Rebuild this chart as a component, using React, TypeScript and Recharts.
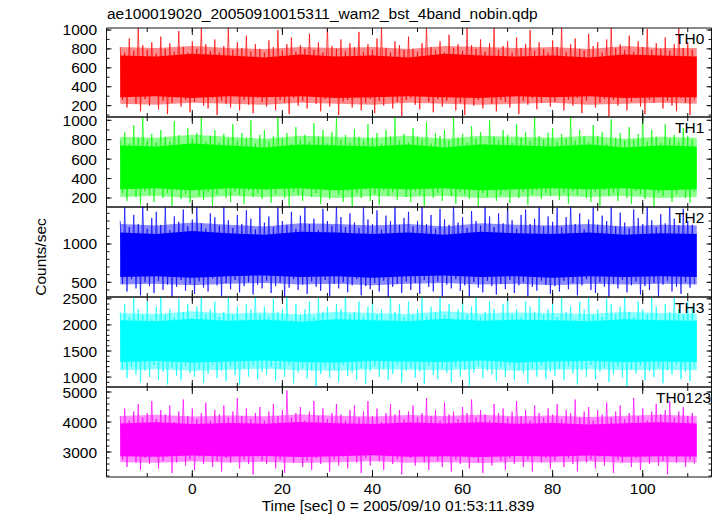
import { Area, ComposedChart, Line, XAxis, YAxis } from 'recharts';

const FONT = '"Liberation Sans", Arial, Helvetica, sans-serif';
const FONT_SIZE = 15.5;
const INK = '#111';
const WIDTH = 717;
const PLOT_LEFT = 106.5;
const RIGHT_GAP = 5.5;
const PAD = 10;
const LABEL_H = 30;

// time axis (seconds)
const X_DOMAIN: [number, number] = [-19.05, 115.27];
const X_MAJOR = [0, 20, 40, 60, 80, 100];
const X_MINOR = [-10, 0, 10, 20, 30, 40, 50, 60, 70, 80, 90, 100, 110];

// spikes: one high every second starting at -16, one low half a bin later
const BIN_START = -16;
const BIN_STEP = 1;
// envelopes of the band, one sample every 8 s
const CORE_STEP = 8;

const th0High = [
  820, 760, 910, 780, 1040, 840, 790, 870, 750, 930, 800, 860, 770, 990, 820, 760, 880, 800, 1030, 850, 780, 900, 760, 830, 1040, 790, 870, 810, 940, 770, 850, 800,
  760, 890, 820, 1000, 780, 850, 920, 770, 840, 800, 960, 790, 870, 760, 1040, 830, 800, 900, 780, 860, 820, 980, 770, 850, 790, 910, 1030, 810, 760, 880, 840, 790,
  930, 800, 770, 860, 1040, 820, 790, 880, 760, 950, 810, 850, 780, 1020, 840, 800, 900, 770, 860, 1040, 790, 830, 880, 760, 920, 810, 850, 1000, 780, 870, 800, 760,
  890, 820, 1030, 770, 850, 910, 800, 780, 960, 830, 870, 760, 900, 1040, 810, 850, 790, 940, 770, 880, 820, 1010, 790, 860, 800, 920, 780, 850, 1040, 810, 870, 790,
];
const th0Low = [
  260, 180, 300, 220, 140, 270, 200, 310, 160, 250, 110, 230, 290, 190, 260, 130, 240, 300, 200, 170, 280, 100, 250, 220, 180, 300, 150, 260, 210, 120, 280, 240,
  190, 300, 150, 260, 230, 110, 280, 200, 250, 170, 310, 220, 140, 270, 190, 300, 100, 240, 260, 180, 290, 150, 230, 270, 120, 250, 200, 300, 170, 240, 90, 260,
  280, 210, 160, 300, 240, 130, 270, 190, 250, 310, 150, 230, 100, 280, 200, 260, 170, 300, 220, 140, 260, 240, 180, 300, 110, 250, 210, 280, 160, 230, 290, 190,
  240, 300, 150, 260, 200, 280, 120, 250, 310, 180, 230, 270, 90, 260, 200, 300, 150, 240, 280, 190, 110, 260, 230, 300, 170, 250, 200, 140, 280, 230, 100, 260,
];
const th0CoreTop = [730, 720, 750, 730, 710, 740, 720, 730, 710, 750, 730, 720, 730, 710, 740, 730, 720];
const th0CoreBot = [290, 300, 280, 300, 290, 300, 280, 290, 300, 290, 280, 300, 290, 300, 280, 290, 290];
const th0HaloTop = [820, 810, 830, 810, 800, 820, 810, 820, 800, 830, 820, 810, 820, 800, 830, 810, 810];
const th0HaloBot = [220, 210, 230, 220, 210, 230, 220, 210, 230, 220, 210, 220, 230, 210, 220, 230, 220];

const th1High = [
  800, 880, 760, 950, 820, 1040, 790, 860, 770, 900, 830, 780, 990, 850, 760, 920, 810, 870, 1040, 780, 840, 900, 770, 860, 810, 960, 790, 870, 820, 1000, 760, 850,
  900, 780, 840, 1040, 810, 870, 760, 930, 800, 850, 780, 970, 830, 900, 760, 880, 1020, 800, 850, 770, 910, 830, 790, 960, 820, 870, 760, 900, 840, 1040, 790, 860,
  770, 920, 830, 800, 980, 760, 870, 840, 900, 790, 1040, 820, 860, 770, 940, 810, 880, 760, 1000, 830, 790, 900, 850, 770, 960, 820, 880, 790, 1030, 840, 800, 870,
  920, 780, 860, 810, 1040, 790, 900, 830, 770, 950, 840, 880, 760, 1010, 820, 870, 790, 930, 800, 860, 1040, 780, 900, 830, 770, 960, 810, 850, 780, 920, 840, 800,
];
const th1Low = [
  250, 170, 290, 210, 130, 270, 230, 160, 300, 200, 250, 120, 280, 190, 240, 150, 300, 220, 180, 260, 110, 240, 290, 200, 160, 270, 230, 140, 280, 210, 250, 190,
  280, 150, 240, 300, 200, 120, 260, 230, 170, 290, 210, 250, 140, 280, 190, 300, 230, 160, 270, 110, 250, 200, 290, 170, 240, 130, 280, 220, 260, 180, 300, 210,
  160, 270, 230, 120, 290, 200, 250, 170, 300, 220, 140, 260, 240, 190, 280, 110, 250, 210, 300, 170, 230, 270, 150, 290, 200, 260, 130, 240, 280, 190, 250, 220,
  290, 180, 250, 140, 270, 230, 300, 200, 160, 260, 120, 280, 220, 250, 170, 300, 200, 140, 270, 240, 190, 290, 110, 250, 220, 280, 160, 240, 300, 200, 150, 260,
];
const th1CoreTop = [740, 730, 760, 740, 720, 750, 740, 730, 750, 720, 750, 740, 730, 750, 720, 740, 730];
const th1CoreBot = [290, 300, 280, 300, 290, 300, 280, 300, 290, 300, 280, 290, 300, 290, 300, 280, 290];
const th1HaloTop = [830, 820, 850, 830, 810, 840, 830, 820, 840, 810, 840, 830, 820, 840, 810, 830, 820];
const th1HaloBot = [210, 220, 200, 220, 210, 220, 200, 220, 210, 220, 200, 210, 220, 210, 220, 200, 210];

const th2High = [
  1300, 1480, 1220, 1380, 1260, 1520, 1200, 1340, 1420, 1250, 1500, 1180, 1360, 1290, 1450, 1230, 1320, 1520, 1270, 1200, 1400, 1350, 1240, 1490, 1310, 1210, 1380, 1260, 1440, 1330, 1190, 1500,
  1280, 1360, 1220, 1520, 1300, 1250, 1420, 1200, 1370, 1490, 1260, 1330, 1180, 1460, 1300, 1240, 1520, 1350, 1220, 1400, 1280, 1210, 1500, 1320, 1260, 1440, 1190, 1370, 1300, 1520, 1250, 1340,
  1420, 1230, 1300, 1500, 1260, 1380, 1200, 1460, 1320, 1250, 1520, 1280, 1350, 1210, 1430, 1300, 1240, 1490, 1360, 1220, 1400, 1270, 1520, 1310, 1200, 1380, 1450, 1260, 1330, 1500, 1230, 1360,
  1290, 1470, 1220, 1350, 1520, 1260, 1400, 1190, 1320, 1480, 1250, 1370, 1300, 1520, 1230, 1410, 1280, 1200, 1450, 1340, 1260, 1500, 1310, 1220, 1390, 1270, 1520, 1330, 1240, 1460, 1300, 1250,
];
const th2Low = [
  480, 380, 540, 420, 330, 500, 450, 360, 520, 400, 470, 310, 440, 530, 390, 480, 350, 510, 430, 380, 550, 460, 320, 490, 410, 530, 370, 450, 500, 340, 470, 420,
  520, 360, 450, 490, 310, 430, 540, 400, 470, 350, 510, 440, 390, 530, 320, 480, 420, 500, 370, 460, 540, 330, 450, 410, 490, 380, 520, 300, 440, 480, 360, 510,
  400, 490, 350, 530, 440, 380, 510, 320, 470, 420, 540, 390, 460, 310, 500, 430, 370, 520, 450, 340, 480, 410, 530, 360, 460, 500, 320, 440, 390, 520, 470, 350,
  450, 380, 520, 410, 490, 330, 460, 540, 400, 360, 500, 440, 310, 480, 420, 530, 370, 460, 510, 340, 450, 400, 490, 300, 470, 520, 380, 440, 350, 500, 430, 480,
];
const th2CoreTop = [1150, 1130, 1170, 1140, 1120, 1160, 1150, 1130, 1150, 1120, 1160, 1140, 1130, 1150, 1120, 1140, 1130];
const th2CoreBot = [570, 580, 560, 580, 590, 570, 580, 560, 580, 590, 570, 580, 560, 580, 570, 580, 570];
const th2HaloTop = [1260, 1240, 1280, 1250, 1230, 1270, 1260, 1240, 1260, 1230, 1270, 1250, 1240, 1260, 1230, 1250, 1240];
const th2HaloBot = [470, 480, 460, 480, 490, 470, 480, 460, 480, 490, 470, 480, 460, 480, 470, 480, 470];

const th3High = [
  2250, 2400, 2150, 2550, 2300, 2200, 2450, 2100, 2350, 2600, 2200, 2300, 2150, 2500, 2250, 2400, 2100, 2350, 2600, 2200, 2300, 2450, 2150, 2250, 2550, 2200, 2350, 2100, 2400, 2300, 2600, 2200,
  2350, 2150, 2500, 2250, 2300, 2600, 2100, 2400, 2200, 2300, 2450, 2150, 2550, 2250, 2350, 2100, 2400, 2300, 2600, 2200, 2250, 2450, 2150, 2350, 2500, 2200, 2300, 2100, 2600, 2250, 2400, 2150,
  2450, 2200, 2300, 2550, 2150, 2350, 2250, 2600, 2200, 2400, 2100, 2300, 2500, 2200, 2350, 2600, 2150, 2250, 2450, 2300, 2100, 2400, 2550, 2200, 2300, 2150, 2450, 2350, 2250, 2600, 2200, 2300,
  2400, 2150, 2550, 2250, 2350, 2100, 2450, 2300, 2600, 2200, 2300, 2150, 2500, 2400, 2200, 2350, 2600, 2250, 2150, 2450, 2300, 2200, 2550, 2350, 2100, 2400, 2250, 2600, 2300, 2200, 2450, 2350,
];
const th3Low = [
  1150, 980, 1200, 1050, 900, 1120, 1000, 1230, 950, 1100, 860, 1180, 1030, 940, 1210, 1080, 1000, 1150, 890, 1060, 1240, 980, 1120, 920, 1200, 1040, 850, 1160, 1010, 1220, 960, 1100,
  1050, 1200, 930, 1150, 1000, 1240, 880, 1090, 1180, 970, 1120, 830, 1060, 1200, 990, 1140, 910, 1230, 1020, 1080, 950, 1170, 870, 1110, 1210, 1000, 1150, 940, 1060, 1230, 900, 1120,
  1180, 990, 1100, 870, 1220, 1040, 960, 1160, 1080, 900, 1200, 1010, 1140, 840, 1090, 1230, 980, 1120, 1050, 920, 1190, 1000, 1240, 950, 1130, 1060, 880, 1170, 1010, 1220, 970, 1100,
  1020, 1160, 940, 1210, 1070, 860, 1130, 1000, 1240, 960, 1100, 1180, 900, 1050, 1200, 990, 830, 1150, 1070, 1220, 940, 1110, 1000, 1180, 880, 1130, 1050, 1230, 960, 1100, 920, 1170,
];
const th3CoreTop = [2090, 2070, 2120, 2080, 2100, 2060, 2110, 2090, 2070, 2120, 2080, 2100, 2090, 2070, 2110, 2090, 2080];
const th3CoreBot = [1290, 1310, 1280, 1300, 1320, 1290, 1280, 1310, 1300, 1290, 1320, 1280, 1300, 1310, 1290, 1300, 1290];
const th3HaloTop = [2230, 2210, 2260, 2220, 2240, 2200, 2250, 2230, 2210, 2260, 2220, 2240, 2230, 2210, 2250, 2230, 2220];
const th3HaloBot = [1130, 1150, 1120, 1140, 1160, 1130, 1120, 1150, 1140, 1130, 1160, 1120, 1140, 1150, 1130, 1140, 1130];

const sumHigh = [
  4200, 4450, 4050, 4350, 4600, 4150, 4300, 4700, 4100, 4400, 4250, 4550, 4000, 4350, 4750, 4200, 4450, 4100, 4300, 4650, 4050, 4400, 4250, 4550, 4150, 4350, 4800, 4200, 4450, 4100, 4300, 4500,
  4050, 4350, 4600, 4200, 4400, 5050, 4150, 4300, 4500, 4050, 4350, 4700, 4200, 4450, 4100, 4300, 4600, 4250, 4050, 4400, 4550, 4150, 4350, 4700, 4200, 4450, 4000, 4300, 4600, 4250, 4400, 4100,
  4350, 4550, 4150, 4300, 4800, 4200, 4400, 4050, 4650, 4250, 4350, 4100, 4500, 4300, 4750, 4150, 4400, 4250, 4050, 4600, 4300, 4450, 4150, 4350, 4700, 4200, 4400, 4050, 4550, 4300, 4150, 4450,
  4250, 4600, 4100, 4400, 4300, 4750, 4150, 4350, 4500, 4050, 4400, 4250, 4650, 4150, 4350, 4550, 4100, 4300, 4800, 4200, 4450, 4050, 4350, 4600, 4250, 4400, 4700, 4150, 4350, 4500, 4200, 4300,
];
const sumLow = [
  2750, 2500, 2900, 2650, 2400, 2800, 2600, 2950, 2450, 2700, 2850, 2300, 2650, 2900, 2550, 2750, 2400, 2850, 2600, 2950, 2500, 2700, 2350, 2800, 2650, 2900, 2450, 2750, 2600, 2250, 2850, 2700,
  2600, 2900, 2450, 2750, 2300, 2850, 2650, 2950, 2500, 2700, 2400, 2800, 2600, 2900, 2350, 2750, 2550, 2850, 2450, 2950, 2650, 2300, 2800, 2550, 2900, 2700, 2400, 2850, 2600, 2750, 2250, 2900,
  2800, 2550, 2950, 2650, 2400, 2850, 2700, 2500, 2900, 2350, 2750, 2600, 2950, 2450, 2800, 2650, 2300, 2850, 2550, 2900, 2700, 2400, 2800, 2600, 2950, 2500, 2750, 2350, 2900, 2650, 2800, 2450,
  2700, 2950, 2500, 2800, 2600, 2350, 2900, 2650, 2750, 2450, 2850, 2550, 2900, 2300, 2750, 2650, 2950, 2500, 2800, 2400, 2850, 2600, 2950, 2550, 2700, 2250, 2850, 2650, 2900, 2500, 2750, 2600,
];
const sumCoreTop = [3950, 3990, 3930, 3970, 3940, 4000, 3960, 3930, 3980, 3950, 3990, 3940, 3970, 3920, 3960, 3990, 3950];
const sumCoreBot = [2860, 2840, 2880, 2850, 2870, 2830, 2860, 2890, 2840, 2860, 2830, 2870, 2850, 2880, 2840, 2860, 2850];
const sumHaloTop = [4200, 4240, 4180, 4220, 4190, 4250, 4210, 4180, 4230, 4200, 4240, 4190, 4220, 4170, 4210, 4240, 4200];
const sumHaloBot = [2660, 2640, 2680, 2650, 2670, 2630, 2660, 2690, 2640, 2660, 2630, 2670, 2650, 2680, 2640, 2660, 2650];

interface PanelSpec {
  name: string;
  labelX: number;
  color: string;
  top: number;
  height: number;
  domain: [number, number];
  major: number[];
  minor: number[];
  high: number[];
  low: number[];
  coreTop: number[];
  coreBot: number[];
  haloTop: number[];
  haloBot: number[];
}

const panels: PanelSpec[] = [
  { name: 'TH0', labelX: 675, color: '#ff0000', top: 27.5, height: 89, domain: [80, 1021], major: [200, 400, 600, 800, 1000], minor: [100, 200, 300, 400, 500, 600, 700, 800, 900, 1000], high: th0High, low: th0Low, coreTop: th0CoreTop, coreBot: th0CoreBot, haloTop: th0HaloTop, haloBot: th0HaloBot },
  { name: 'TH1', labelX: 675, color: '#00ff00', top: 116.5, height: 90, domain: [107, 1034], major: [200, 400, 600, 800, 1000], minor: [200, 300, 400, 500, 600, 700, 800, 900, 1000], high: th1High, low: th1Low, coreTop: th1CoreTop, coreBot: th1CoreBot, haloTop: th1HaloTop, haloBot: th1HaloBot },
  { name: 'TH2', labelX: 675, color: '#0000ff', top: 206.5, height: 90, domain: [308, 1483], major: [500, 1000], minor: [400, 500, 600, 700, 800, 900, 1000, 1100, 1200, 1300, 1400], high: th2High, low: th2Low, coreTop: th2CoreTop, coreBot: th2CoreBot, haloTop: th2HaloTop, haloBot: th2HaloBot },
  { name: 'TH3', labelX: 675, color: '#00ffff', top: 296.5, height: 90, domain: [810, 2535], major: [1000, 1500, 2000, 2500], minor: [900, 1000, 1100, 1200, 1300, 1400, 1500, 1600, 1700, 1800, 1900, 2000, 2100, 2200, 2300, 2400, 2500], high: th3High, low: th3Low, coreTop: th3CoreTop, coreBot: th3CoreBot, haloTop: th3HaloTop, haloBot: th3HaloBot },
  { name: 'TH0123', labelX: 656, color: '#ff00ff', top: 386.5, height: 90, domain: [2167, 5167], major: [3000, 4000, 5000], minor: [2200, 2400, 2600, 2800, 3000, 3200, 3400, 3600, 3800, 4000, 4200, 4400, 4600, 4800, 5000], high: sumHigh, low: sumLow, coreTop: sumCoreTop, coreBot: sumCoreBot, haloTop: sumHaloTop, haloBot: sumHaloBot },
];

function spikeRows(high: number[], low: number[]) {
  const rows: { t: number; v: number }[] = [];
  high.forEach((v, i) => {
    rows.push({ t: BIN_START + i * BIN_STEP, v });
    rows.push({ t: BIN_START + i * BIN_STEP + BIN_STEP / 2, v: low[i] });
  });
  return rows;
}

function bandRows(p: PanelSpec) {
  return p.coreTop.map((v, i) => ({
    t: BIN_START + i * CORE_STEP,
    core: [p.coreBot[i], v],
    halo: [p.haloBot[i], p.haloTop[i]],
  }));
}

const tickText = { fill: '#000', fontSize: FONT_SIZE, fontFamily: FONT };
const NoLabel = () => <g />;

// inward tick marks on all four sides, plus the frame
function frameAxes(p: PanelSpec) {
  const common = { type: 'number' as const, allowDataOverflow: true, interval: 0, tick: NoLabel, stroke: INK, mirror: true };
  const xs = { ...common, dataKey: 't', domain: X_DOMAIN, height: 0.01 };
  const ys = { ...common, dataKey: 'v', domain: p.domain, width: 0.01 };
  return [
    <XAxis key="bM" xAxisId="bM" {...xs} orientation="bottom" ticks={X_MAJOR} tickSize={7} />,
    <XAxis key="bm" xAxisId="bm" {...xs} orientation="bottom" ticks={X_MINOR} tickSize={4} axisLine={false} />,
    <XAxis key="tM" xAxisId="tM" {...xs} orientation="top" ticks={X_MAJOR} tickSize={7} />,
    <XAxis key="tm" xAxisId="tm" {...xs} orientation="top" ticks={X_MINOR} tickSize={4} axisLine={false} />,
    <YAxis key="lM" yAxisId="lM" {...ys} orientation="left" ticks={p.major} tickSize={5} />,
    <YAxis key="lm" yAxisId="lm" {...ys} orientation="left" ticks={p.minor} tickSize={3} axisLine={false} />,
    <YAxis key="rM" yAxisId="rM" {...ys} orientation="right" ticks={p.major} tickSize={5} />,
    <YAxis key="rm" yAxisId="rm" {...ys} orientation="right" ticks={p.minor} tickSize={3} axisLine={false} />,
  ];
}

function Panel({ p, last }: { p: PanelSpec; last: boolean }) {
  const extra = last ? LABEL_H : 0;
  const h = p.height + 2 * PAD + extra;
  return (
    <>
      <div style={{ position: 'absolute', left: 0, top: p.top - PAD }}>
        <ComposedChart width={WIDTH} height={h} data={bandRows(p)}
          margin={{ top: PAD, right: RIGHT_GAP, bottom: PAD + extra, left: PLOT_LEFT }}>
          <XAxis xAxisId="main" type="number" dataKey="t" domain={X_DOMAIN} allowDataOverflow hide />
          <YAxis yAxisId="main" type="number" domain={p.domain} allowDataOverflow hide />
          <Area xAxisId="main" yAxisId="main" type="linear" dataKey="halo" fill={p.color} fillOpacity={0.45}
            stroke="none" isAnimationActive={false} activeDot={false} />
          <Area xAxisId="main" yAxisId="main" type="linear" dataKey="core" fill={p.color} fillOpacity={1}
            stroke="none" isAnimationActive={false} activeDot={false} />
        </ComposedChart>
      </div>
      <div style={{ position: 'absolute', left: 0, top: p.top - PAD }}>
        <ComposedChart width={WIDTH} height={h} data={spikeRows(p.high, p.low)}
          margin={{ top: PAD, right: RIGHT_GAP, bottom: PAD, left: 0 }}>
          <XAxis xAxisId="main" type="number" dataKey="t" domain={X_DOMAIN} allowDataOverflow hide />
          {last && (
            <XAxis xAxisId="lab" type="number" dataKey="t" domain={X_DOMAIN} allowDataOverflow orientation="bottom"
              height={LABEL_H} ticks={X_MAJOR} interval={0} tickLine={false} axisLine={false}
              tickSize={4} tickMargin={2} tick={tickText} />
          )}
          <YAxis yAxisId="main" type="number" domain={p.domain} allowDataOverflow width={PLOT_LEFT}
            ticks={p.major} interval={0} tickLine={false} axisLine={false} tickSize={6} tickMargin={3.5}
            tick={tickText} />
          <Line xAxisId="main" yAxisId="main" type="linear" dataKey="v" stroke={p.color} strokeWidth={1}
            strokeOpacity={0.7} dot={false} activeDot={false} connectNulls isAnimationActive={false} />
          {frameAxes(p)}
        </ComposedChart>
      </div>
    </>
  );
}

export default function App() {
  return (
    <div style={{ position: 'absolute', left: 0, top: 0, width: WIDTH, height: 516, background: '#fff' }}>
      {panels.map((p, i) => (
        <Panel key={p.name} p={p} last={i === panels.length - 1} />
      ))}
      <svg width={WIDTH} height={516} style={{ position: 'absolute', left: 0, top: 0, pointerEvents: 'none' }}
        fontFamily={FONT} fontSize={FONT_SIZE} fill="#000">
        <text x={107} y={19}>ae100019020_20050910015311_wam2_bst_4band_nobin.qdp</text>
        <text x={46} y={257} textAnchor="middle" transform="rotate(-90 46 257)">Counts/sec</text>
        <text x={398} y={511} textAnchor="middle">Time [sec] 0 = 2005/09/10 01:53:11.839</text>
        {panels.map((p) => (
          <text key={p.name} x={p.labelX} y={p.top + 16}>{p.name}</text>
        ))}
      </svg>
    </div>
  );
}
